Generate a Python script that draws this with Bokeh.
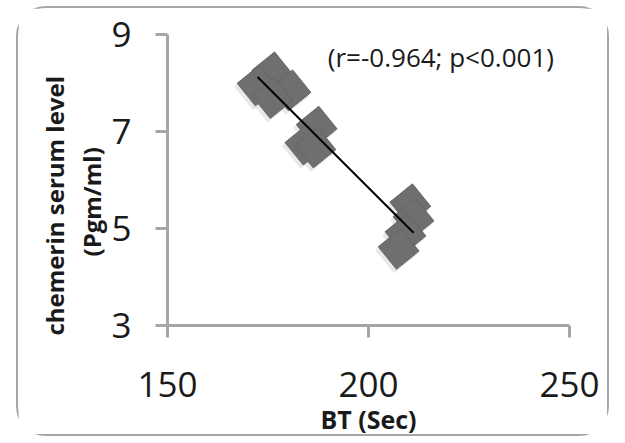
import numpy as np
from bokeh.plotting import figure
from bokeh.models import ColumnDataSource, FixedTicker, Label, Range1d, Title
from bokeh.transform import dodge
from bokeh.embed import file_html
from bokeh.resources import INLINE

# ---- data ----
bt_sec = [176.1, 172.4, 180.6, 176.1, 187.1, 184.3, 186.8, 210.4, 211.2, 209.2, 207.5]
chemerin = [8.22, 7.95, 7.85, 7.69, 7.10, 6.73, 6.67, 5.50, 5.20, 4.89, 4.58]
x_ticks = [150, 200, 250]
y_ticks = [3, 5, 7, 9]
stat_text = "(r=-0.964; p<0.001)"
x_title = "BT (Sec)"
y_title_1 = "chemerin serum level"
y_title_2 = "(Pgm/ml)"

FONT = "Open Sans"
AXIS_GREY = "#a6a6a6"

p = figure(width=593, height=430, output_backend="svg", toolbar_location=None,
           x_range=Range1d(150, 250), y_range=Range1d(3, 9),
           min_border_left=149, min_border_right=42, min_border_top=26,
           min_border_bottom=111)
p.margin = (6, 0, 0, 16)
p.styles = {"border": "2.5px solid #a6a6a6", "border-radius": "30px"}
p.outline_line_color = None
p.xgrid.visible = False
p.ygrid.visible = False
p.background_fill_color = "white"
p.border_fill_color = "white"

src = ColumnDataSource(dict(x=bt_sec, y=chemerin))

# soft shadow
p.scatter(x=dodge("x", -0.6, range=p.x_range), y=dodge("y", -0.07, range=p.y_range),
          source=src, marker="square", size=30, angle=0.68,
          fill_color="#bdbdbd", fill_alpha=0.35, line_color=None)
p.scatter(x="x", y="y", source=src, marker="square", size=29, angle=0.68,
          fill_color="#6f6f6f", line_color="#656565", line_width=1)

# least-squares trend line from the data
xs = np.array(bt_sec)
ys = np.array(chemerin)
k, b = np.polyfit(xs, ys, 1)
lx = np.array([xs.min(), xs.max()])
p.line(lx, k * lx + b, line_color="black", line_width=2)

# axes
for ax in (p.xaxis[0], p.yaxis[0]):
    ax.axis_line_color = AXIS_GREY
    ax.axis_line_width = 3
    ax.major_tick_line_color = AXIS_GREY
    ax.major_tick_line_width = 3
    ax.major_tick_in = 0
    ax.major_tick_out = 12
    ax.minor_tick_line_color = None
    ax.major_label_text_font = FONT
    ax.major_label_text_font_size = "35px"
    ax.major_label_text_color = "#1a1a1a"

p.xaxis.ticker = FixedTicker(ticks=x_ticks)
p.yaxis.ticker = FixedTicker(ticks=y_ticks)
p.xaxis.major_label_standoff = 34
p.yaxis.major_label_standoff = 24

p.xaxis.axis_label = x_title
p.xaxis.axis_label_text_font = FONT
p.xaxis.axis_label_text_font_size = "25px"
p.xaxis.axis_label_text_font_style = "bold"
p.xaxis.axis_label_text_color = "#1a1a1a"
p.xaxis.axis_label_standoff = 2

# y title as two stacked side titles (closest to the axis first)
for txt, so, off in ((y_title_2, 0, 69), (y_title_1, 3, -10)):
    p.add_layout(Title(text=txt, align="left", offset=off, vertical_align="middle",
                       standoff=so, text_font=FONT, text_font_size="24px",
                       text_font_style="bold", text_color="#1a1a1a"), "left")

p.add_layout(Label(x=218, y=8.53, text=stat_text, text_align="center",
                   text_baseline="middle", text_font=FONT,
                   text_font_size="26px", text_color="#1a1a1a"))

open("out.html", "w").write(file_html(p, INLINE))
